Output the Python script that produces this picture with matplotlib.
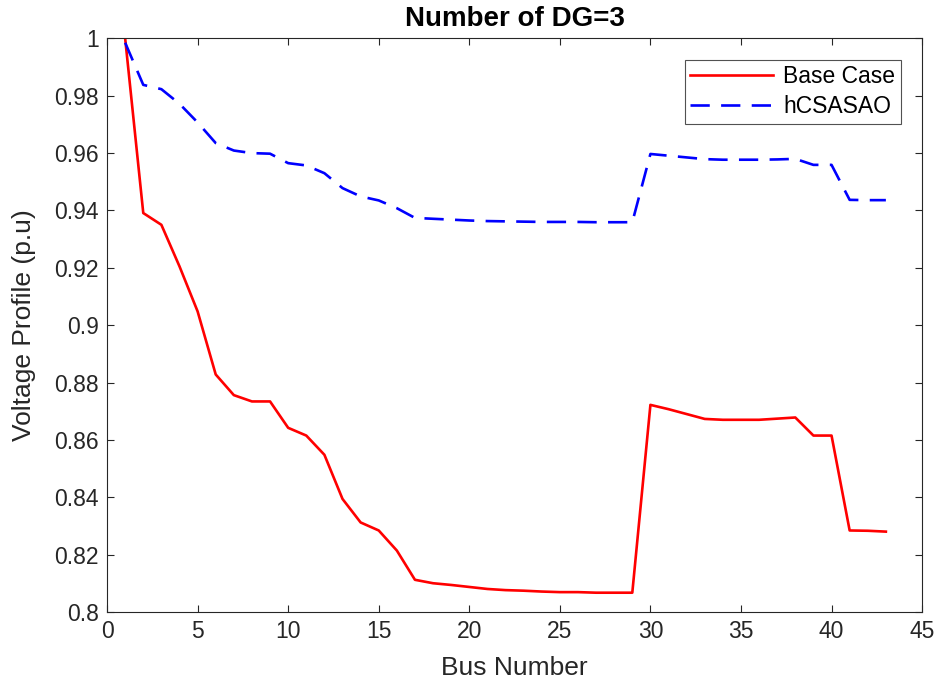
import numpy as np
import matplotlib
matplotlib.use('Agg')
import matplotlib.pyplot as plt

plt.rcParams['font.family'] = ['Liberation Sans', 'DejaVu Sans']

# bus voltage profiles (p.u)
bus = np.arange(1, 44)
base_case = [1.0, 0.9391, 0.935, 0.9205, 0.9048, 0.8828, 0.8756, 0.8734, 0.8734,
             0.8642, 0.8615, 0.8548, 0.8394, 0.8312, 0.8284, 0.8214, 0.8112,
             0.8100, 0.8094, 0.8087, 0.8080, 0.8076, 0.8074, 0.8071, 0.8069,
             0.8069, 0.8067, 0.8067, 0.8067, 0.8722, 0.8707, 0.8690, 0.8673,
             0.8670, 0.8670, 0.8670, 0.8674, 0.8678, 0.8615, 0.8615, 0.8284,
             0.8283, 0.8280]
hcsasao = [0.9985, 0.9838, 0.9823, 0.9772, 0.9707, 0.9635, 0.9609, 0.9600, 0.9598,
           0.9565, 0.9557, 0.9530, 0.9478, 0.9449, 0.9435, 0.9408, 0.9374,
           0.9371, 0.9368, 0.9365, 0.9363, 0.9362, 0.9361, 0.9360, 0.9360,
           0.9360, 0.9359, 0.9359, 0.9359, 0.9597, 0.9591, 0.9585, 0.9579,
           0.9577, 0.9577, 0.9577, 0.9578, 0.9580, 0.9559, 0.9559, 0.9437,
           0.9436, 0.9436]

fig = plt.figure(figsize=(9.39, 6.86), dpi=100)
ax = fig.add_axes([0.114, 0.108, 0.868, 0.836])

ax.plot(bus, base_case, color='red', lw=1.9, label='Base Case')
ax.plot(bus, hcsasao, color='blue', lw=1.9, linestyle=(0, (7.3, 4.3)), label='hCSASAO')

ax.set_xlim(0, 45)
ax.set_ylim(0.8, 1.0)
ax.set_xticks(np.arange(0, 46, 5))
ax.set_yticks(np.arange(0.8, 1.001, 0.02))
ax.set_yticklabels(['0.8', '0.82', '0.84', '0.86', '0.88', '0.9', '0.92',
                    '0.94', '0.96', '0.98', '1'])

dark = '#262626'
for s in ax.spines.values():
    s.set_color(dark)
    s.set_linewidth(0.8)
ax.tick_params(direction='in', top=True, right=True, length=5, width=0.8,
               colors=dark, labelsize=16.5, labelcolor=dark, pad=6)

ax.set_xlabel('Bus Number', fontsize=19, color=dark, labelpad=9)
ax.set_ylabel('Voltage Profile (p.u)', fontsize=19, color=dark, labelpad=13)
ax.set_title('Number of DG=3', fontsize=20, fontweight='bold', pad=9)

leg = ax.legend(loc='upper right', bbox_to_anchor=(0.974, 0.963), borderaxespad=0,
                fontsize=16.5, fancybox=False, edgecolor=dark, handlelength=3.6,
                handletextpad=0.45, borderpad=0.25, labelspacing=0.28)
leg.get_frame().set_linewidth(0.8)

fig.savefig('out.png', dpi=100)
